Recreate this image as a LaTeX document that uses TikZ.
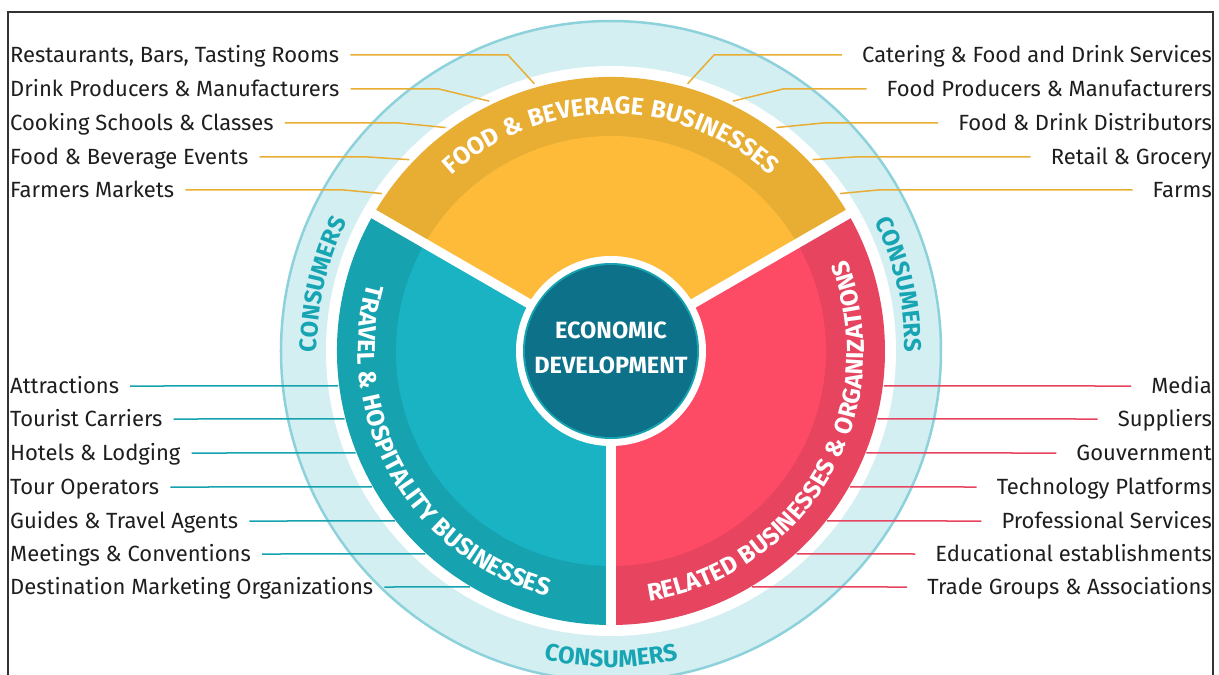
\documentclass[tikz,border=0pt]{standalone}
\usepackage{fontspec}
\setmainfont{Fira Sans}
\usetikzlibrary{decorations.text}
\definecolor{ringfill}{HTML}{D4EFF2}
\definecolor{ringedge}{HTML}{8DD2DB}
\definecolor{foodouter}{HTML}{E8AD33}
\definecolor{foodinner}{HTML}{FDBB39}
\definecolor{travelouter}{HTML}{16A3AF}
\definecolor{travelinner}{HTML}{19B3C3}
\definecolor{relatedouter}{HTML}{E6445F}
\definecolor{relatedinner}{HTML}{FD4A65}
\definecolor{econfill}{HTML}{0D7189}
\definecolor{consumertext}{HTML}{17A5B3}
\definecolor{labeltext}{HTML}{1E1E1E}
\definecolor{framecol}{HTML}{333333}
\newcommand{\segfont}{\fontsize{24.5}{28}\selectfont\bfseries\addfontfeature{LetterSpace=4}}
\newcommand{\consfont}{\fontsize{24}{28}\selectfont\bfseries\color{consumertext}}

\begin{document}
\begin{tikzpicture}[x=1pt, y=1pt,
        leftitem/.style={anchor=west, inner sep=0pt, text=labeltext, font=\fontsize{22}{26}\selectfont, text height=15pt, text depth=0pt},
        rightitem/.style={leftitem, anchor=east},
        foodline/.style={draw=foodouter, line width=1.5pt},
        travelline/.style={draw=travelouter, line width=1.5pt},
        relatedline/.style={draw=relatedouter, line width=1.5pt},
        arctext/.style={decorate, decoration={text along path, text align=center, text color=white}},
        constext/.style={decorate, decoration={text along path, text align=center}},
    ]
    \useasboundingbox (-611,-324) rectangle (608,351);
    \clip (-611,-324) rectangle (608,351);
    \draw[framecol, line width=1.2pt] (-603,-340) rectangle (602,339);

    % consumers ring
    \fill[ringfill] (0,0) circle[radius=330pt];
    \draw[ringedge, line width=2.5pt] (0,0) circle[radius=330pt];
    \fill[white] (0,0) circle[radius=285pt];

    % sectors
    \fill[foodouter] (0,0) -- (30:274) arc[start angle=30, end angle=150, radius=274pt] -- cycle;
    \fill[foodinner] (0,0) -- (30:215) arc[start angle=30, end angle=150, radius=215pt] -- cycle;
    \fill[travelouter] (0,0) -- (150:274) arc[start angle=150, end angle=270, radius=274pt] -- cycle;
    \fill[travelinner] (0,0) -- (150:215) arc[start angle=150, end angle=270, radius=215pt] -- cycle;
    \fill[relatedouter] (0,0) -- (270:274) arc[start angle=270, end angle=390, radius=274pt] -- cycle;
    \fill[relatedinner] (0,0) -- (270:215) arc[start angle=270, end angle=390, radius=215pt] -- cycle;
    \draw[white, line width=9.5pt] (0,0) -- (30:280);
    \draw[white, line width=9.5pt] (0,0) -- (150:280);
    \draw[white, line width=9.5pt] (0,0) -- (270:280);

    % centre
    \fill[white] (0,0) circle[radius=95pt];
    \fill[travelouter] (0,0) circle[radius=88pt];
    \fill[econfill] (0,0) circle[radius=86pt];
    \node[text=white, font=\fontsize{23.5}{35}\selectfont\bfseries, align=center] (econ) at (0,3) {ECONOMIC\\DEVELOPMENT};

    % curved titles
    \path[arctext, decoration={text={|\segfont|FOOD {\&} BEVERAGE BUSINESSES}}]
        (150:237) arc[start angle=150, end angle=30, radius=237pt];
    \path[arctext, decoration={text={|\segfont|TRAVEL {\&} HOSPITALITY BUSINESSES}}]
        (150:253) arc[start angle=150, end angle=270, radius=253pt];
    \path[arctext, decoration={text={|\segfont|RELATED BUSINESSES {\&} ORGANIZATIONS}}]
        (270:253) arc[start angle=270, end angle=390, radius=253pt];
    \path[constext, decoration={text={|\consfont|CONSUMERS}}]
        (197:294) arc[start angle=197, end angle=137, radius=294pt];
    \path[constext, decoration={text={|\consfont|CONSUMERS}}]
        (43:294) arc[start angle=43, end angle=-17, radius=294pt];
    \path[constext, decoration={text={|\consfont|CONSUMERS}}]
        (240:316) arc[start angle=240, end angle=300, radius=316pt];

    % food and beverage
    \node[leftitem] (rest) at (-601,296) {Restaurants, Bars, Tasting Rooms};
    \node[leftitem] (drink) at (-601,262) {Drink Producers \& Manufacturers};
    \node[leftitem] (cook) at (-601,228) {Cooking Schools \& Classes};
    \node[leftitem] (events) at (-601,194) {Food \& Beverage Events};
    \node[leftitem] (market) at (-601,161) {Farmers Markets};
    \node[rightitem] (cater) at (601,296) {Catering \& Food and Drink Services};
    \node[rightitem] (foodprod) at (601,262) {Food Producers \& Manufacturers};
    \node[rightitem] (distrib) at (601,228) {Food \& Drink Distributors};
    \node[rightitem] (retail) at (601,194) {Retail \& Grocery};
    \node[rightitem] (farms) at (601,161) {Farms};

    \coordinate (f1) at (106:278);
    \coordinate (f2) at (116:278);
    \coordinate (f3) at (126.5:278);
    \coordinate (f4) at (136.5:278);
    \coordinate (f5) at (145.5:278);
    \coordinate (g1) at (74:278);
    \coordinate (g2) at (64:278);
    \coordinate (g3) at (53.5:278);
    \coordinate (g4) at (43.5:278);
    \coordinate (g5) at (34.5:278);

    \draw[foodline, shorten <=11pt] (rest.east) -- (-103,296) -- (f1);
    \draw[foodline, shorten <=11pt] (drink.east) -- (-172,262) -- (f2);
    \draw[foodline, shorten <=11pt] (cook.east) -- (-212,228) -- (f3);
    \draw[foodline, shorten <=11pt] (events.east) -- (-243,194) -- (f4);
    \draw[foodline, shorten <=11pt] (market.east) -- (-267,161) -- (f5);
    \draw[foodline, shorten >=20pt] (g1) -- (103,296) -- (cater.west);
    \draw[foodline, shorten >=20pt] (g2) -- (172,262) -- (foodprod.west);
    \draw[foodline, shorten >=20pt] (g3) -- (212,228) -- (distrib.west);
    \draw[foodline, shorten >=20pt] (g4) -- (243,194) -- (retail.west);
    \draw[foodline, shorten >=20pt] (g5) -- (267,161) -- (farms.west);

    % travel and hospitality
    \node[leftitem] (attr) at (-601,-35) {Attractions};
    \node[leftitem] (carrier) at (-601,-68) {Tourist Carriers};
    \node[leftitem] (hotel) at (-601,-102) {Hotels \& Lodging};
    \node[leftitem] (tour) at (-601,-136) {Tour Operators};
    \node[leftitem] (guide) at (-601,-170) {Guides \& Travel Agents};
    \node[leftitem] (meet) at (-601,-203) {Meetings \& Conventions};
    \node[leftitem] (dmo) at (-601,-236) {Destination Marketing Organizations};

    \coordinate (t1) at ({180-asin(-35/275)}:275);
    \coordinate (t2) at ({180-asin(-68/275)}:275);
    \coordinate (t3) at ({180-asin(-102/275)}:275);
    \coordinate (t4) at ({180-asin(-136/275)}:275);
    \coordinate (t5) at ({180-asin(-170/275)}:275);
    \coordinate (t6) at ({180-asin(-203/275)}:275);
    \coordinate (t7) at ({180-asin(-236/275)}:275);

    \draw[travelline, shorten <=11pt] (attr.east) -- (t1);
    \draw[travelline, shorten <=11pt] (carrier.east) -- (t2);
    \draw[travelline, shorten <=11pt] (hotel.east) -- (t3);
    \draw[travelline, shorten <=11pt] (tour.east) -- (t4);
    \draw[travelline, shorten <=11pt] (guide.east) -- (t5);
    \draw[travelline, shorten <=11pt] (meet.east) -- (t6);
    \draw[travelline, shorten <=11pt] (dmo.east) -- (t7);

    % related businesses
    \node[rightitem] (media) at (601,-35) {Media};
    \node[rightitem] (supp) at (601,-68) {Suppliers};
    \node[rightitem] (gov) at (601,-102) {Gouvernment};
    \node[rightitem] (tech) at (601,-136) {Technology Platforms};
    \node[rightitem] (prof) at (601,-170) {Professional Services};
    \node[rightitem] (edu) at (601,-203) {Educational establishments};
    \node[rightitem] (trade) at (601,-236) {Trade Groups \& Associations};

    \coordinate (r1) at ({asin(-35/275)}:275);
    \coordinate (r2) at ({asin(-68/275)}:275);
    \coordinate (r3) at ({asin(-102/275)}:275);
    \coordinate (r4) at ({asin(-136/275)}:275);
    \coordinate (r5) at ({asin(-170/275)}:275);
    \coordinate (r6) at ({asin(-203/275)}:275);
    \coordinate (r7) at ({asin(-236/275)}:275);

    \draw[relatedline, shorten >=20pt] (r1) -- (media.west);
    \draw[relatedline, shorten >=20pt] (r2) -- (supp.west);
    \draw[relatedline, shorten >=20pt] (r3) -- (gov.west);
    \draw[relatedline, shorten >=20pt] (r4) -- (tech.west);
    \draw[relatedline, shorten >=20pt] (r5) -- (prof.west);
    \draw[relatedline, shorten >=20pt] (r6) -- (edu.west);
    \draw[relatedline, shorten >=20pt] (r7) -- (trade.west);

\end{tikzpicture}
\end{document}
